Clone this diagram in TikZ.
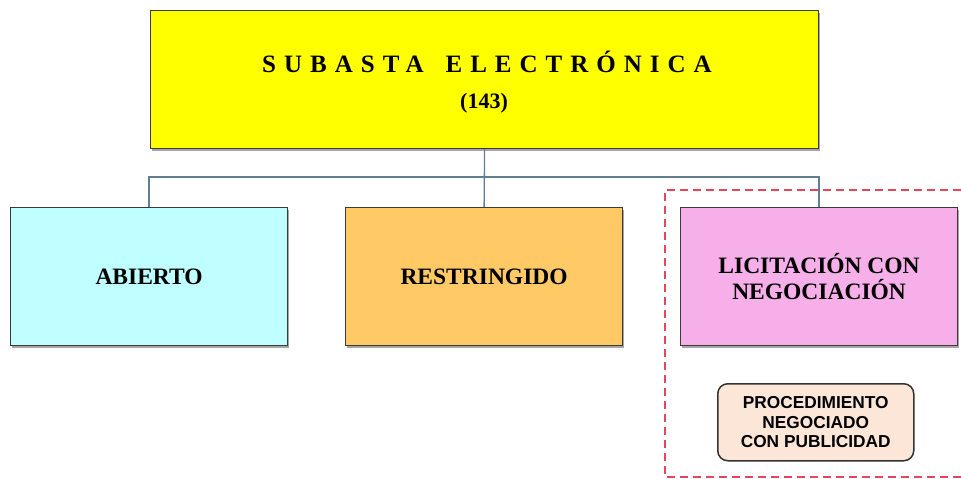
\documentclass[tikz,border=0pt]{standalone}
\usepackage{fontspec}
\setmainfont{Liberation Serif}
\newfontfamily\arialf{Liberation Sans}
\usetikzlibrary{shadows}
\definecolor{yellowbox}{HTML}{FFFF00}
\definecolor{cyanbox}{HTML}{BFFFFF}
\definecolor{orangebox}{HTML}{FFC966}
\definecolor{pinkbox}{HTML}{F7AFEA}
\definecolor{peachbox}{HTML}{FCE6D8}
\definecolor{connc}{HTML}{5F7E92}
\definecolor{redd}{HTML}{E5475A}
\definecolor{bordc}{HTML}{3A3A3A}
\tikzset{
  box/.style={draw=bordc, line width=1.2pt, anchor=north west, inner sep=0pt,
     align=center, font=\bfseries\fontsize{23.5}{26}\selectfont,
     drop shadow={shadow xshift=1.5pt, shadow yshift=-2pt, opacity=0.35, fill=black}},
  conn/.style={draw=connc, line width=1.3pt},
  smallbox/.style={draw=black!80, line width=1.5pt, rounded corners=10pt, fill=peachbox,
     anchor=north west, inner sep=0pt, align=center,
     font=\arialf\bfseries\fontsize{17.3}{19.5}\selectfont},
  dashbox/.style={draw=redd, line width=2.5pt, dash pattern=on 8pt off 5pt}
}
\begin{document}
\begin{tikzpicture}[x=1pt,y=-1pt]
\useasboundingbox (0,0) rectangle (961,479);
\node[box, fill=yellowbox, minimum width=668pt, minimum height=138pt] (top) at (150,10) {};
\node[font=\bfseries\fontsize{25}{27}\selectfont\addfontfeatures{LetterSpace=32}] (title) at (487,62) {SUBASTA\hspace{22pt}ELECTRÓNICA};
\node[font=\bfseries\fontsize{22}{24}\selectfont] (num) at (484,103) {(143)};
\node[box, fill=cyanbox, minimum width=277pt, minimum height=138pt] (ab) at (10,207) {ABIERTO};
\node[box, fill=orangebox, minimum width=277pt, minimum height=138pt] (res) at (345,207) {RESTRINGIDO};
\node[box, fill=pinkbox, minimum width=277pt, minimum height=138pt] (lic) at (680,207) {LICITACIÓN CON\\NEGOCIACIÓN};
\coordinate (j) at (484,177);
\draw[conn] (top.south) -- (res.north);
\draw[conn] (ab.north) -- (ab.north |- j) -- (lic.north |- j) -- (lic.north);
\draw[dashbox] (961,190) -- (665,190) -- (665,477) -- (961,477);
\node[smallbox, minimum width=196pt, minimum height=77pt] (pn) at (717,383) {PROCEDIMIENTO\\NEGOCIADO\\CON PUBLICIDAD};
\end{tikzpicture}
\end{document}
